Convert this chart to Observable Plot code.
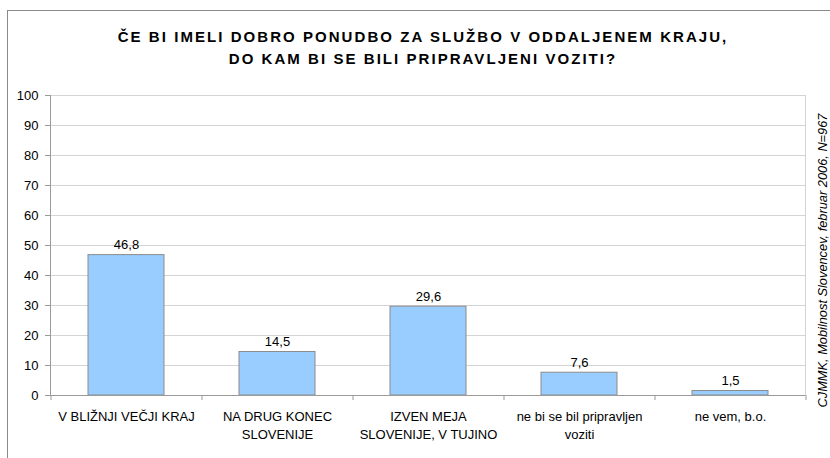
<!DOCTYPE html>
<html>
<head>
<meta charset="utf-8">
<script src="https://cdn.jsdelivr.net/npm/d3@7"></script>
<script src="https://cdn.jsdelivr.net/npm/@observablehq/plot@0.6"></script>
<style>
  html, body { margin: 0; padding: 0; background: #fff; }
  #wrap { position: relative; width: 830px; height: 458px; overflow: hidden; }
  #frame { position: absolute; left: 7px; top: 10px; width: 900px; height: 600px;
           border-left: 1px solid #8a8a8a; border-top: 1px solid #8a8a8a; pointer-events: none; }
  svg { font-family: "Liberation Sans", Arial, sans-serif; }
</style>
</head>
<body>
<div id="wrap"><div id="frame"></div></div>
<script>
const categories = [
  "V BLIŽNJI VEČJI KRAJ",
  "NA DRUG KONEC SLOVENIJE",
  "IZVEN MEJA SLOVENIJE, V TUJINO",
  "ne bi se bil pripravljen voziti",
  "ne vem, b.o."
];
const tickLabels = [
  "V BLIŽNJI VEČJI KRAJ",
  "NA DRUG KONEC\nSLOVENIJE",
  "IZVEN MEJA\nSLOVENIJE, V TUJINO",
  "ne bi se bil pripravljen\nvoziti",
  "ne vem, b.o."
];
const values = [46.8, 14.5, 29.6, 7.6, 1.5];
const valueLabels = ["46,8", "14,5", "29,6", "7,6", "1,5"];
const yTicks = [0, 10, 20, 30, 40, 50, 60, 70, 80, 90, 100];
const titleLines = ["ČE BI IMELI DOBRO PONUDBO ZA SLUŽBO V ODDALJENEM KRAJU,", "DO KAM BI SE BILI PRIPRAVLJENI VOZITI?"];
const source = "CJMMK, Mobilnost Slovencev, februar 2006, N=967";

const data = categories.map((c, i) => ({cat: c, value: values[i], label: valueLabels[i]}));
const labelOf = new Map(categories.map((c, i) => [c, tickLabels[i]]));
const lastCat = [categories[categories.length - 1]];

const chart = Plot.plot({
  width: 830,
  height: 458,
  marginLeft: 50,
  marginRight: 25,
  marginTop: 95,
  marginBottom: 63,
  style: {fontFamily: "'Liberation Sans', Arial, sans-serif", fontSize: "13px", color: "#000", background: "transparent"},
  x: {domain: categories, paddingInner: 0.5, paddingOuter: 0.25, label: null},
  y: {domain: [0, 100], label: null},
  marks: [
    Plot.gridY(yTicks.filter(d => d > 0), {stroke: "#d4d4d4", strokeOpacity: 1}),
    Plot.frame({anchor: "right", stroke: "#d4d4d4", strokeOpacity: 1}),
    Plot.barY(data, {x: "cat", y: "value", fill: "#99ccff", stroke: "#8c8c8c", strokeWidth: 1}),
    Plot.ruleY([0], {stroke: "#9a9a9a"}),
    Plot.frame({anchor: "left", stroke: "#9a9a9a", strokeOpacity: 1}),
    Plot.axisY(yTicks, {tickSize: 5, tickPadding: 7, stroke: "#9a9a9a", fill: "#000", fontSize: 13}),
    Plot.ruleX(categories, {x: d => d, dx: -75.5, y1: 0, y2: 0, insetBottom: -5, stroke: "#9a9a9a"}),
    Plot.ruleX(lastCat, {x: d => d, dx: 75.5, y1: 0, y2: 0, insetBottom: -5, stroke: "#9a9a9a"}),
    Plot.axisX({tickSize: 0, tickPadding: 13, lineHeight: 1.35, fontSize: 13, fill: "#000",
                tickFormat: d => labelOf.get(d)}),
    Plot.text(data, {x: "cat", y: "value", text: "label", dy: -10, lineAnchor: "middle", fontSize: 13, fill: "#000"}),
    Plot.text([titleLines[0]], {frameAnchor: "top", text: d => d, dx: -5, dy: -54, lineAnchor: "bottom",
      fontSize: 15, fontWeight: "bold", fill: "#000"}),
    Plot.text([titleLines[1]], {frameAnchor: "top", text: d => d, dx: -5, dy: -32, lineAnchor: "bottom",
      fontSize: 15, fontWeight: "bold", fill: "#000"}),
    Plot.text([source], {frameAnchor: "right", text: d => d, rotate: -90, dx: 17, dy: 15,
      textAnchor: "middle", lineAnchor: "middle",
      fontSize: 12.8, fontStyle: "italic", fill: "#000"})
  ]
});
// widen the title's letter spacing as in the reference
d3.select(chart).selectAll("text").each(function () {
  const t = this.textContent;
  if (t === titleLines[0] || t === titleLines[1]) d3.select(this).style("letter-spacing", "2.05px");
});
document.getElementById("wrap").appendChild(chart);
chart.style.position = "absolute";
chart.style.left = "0";
chart.style.top = "0";
</script>
</body>
</html>
